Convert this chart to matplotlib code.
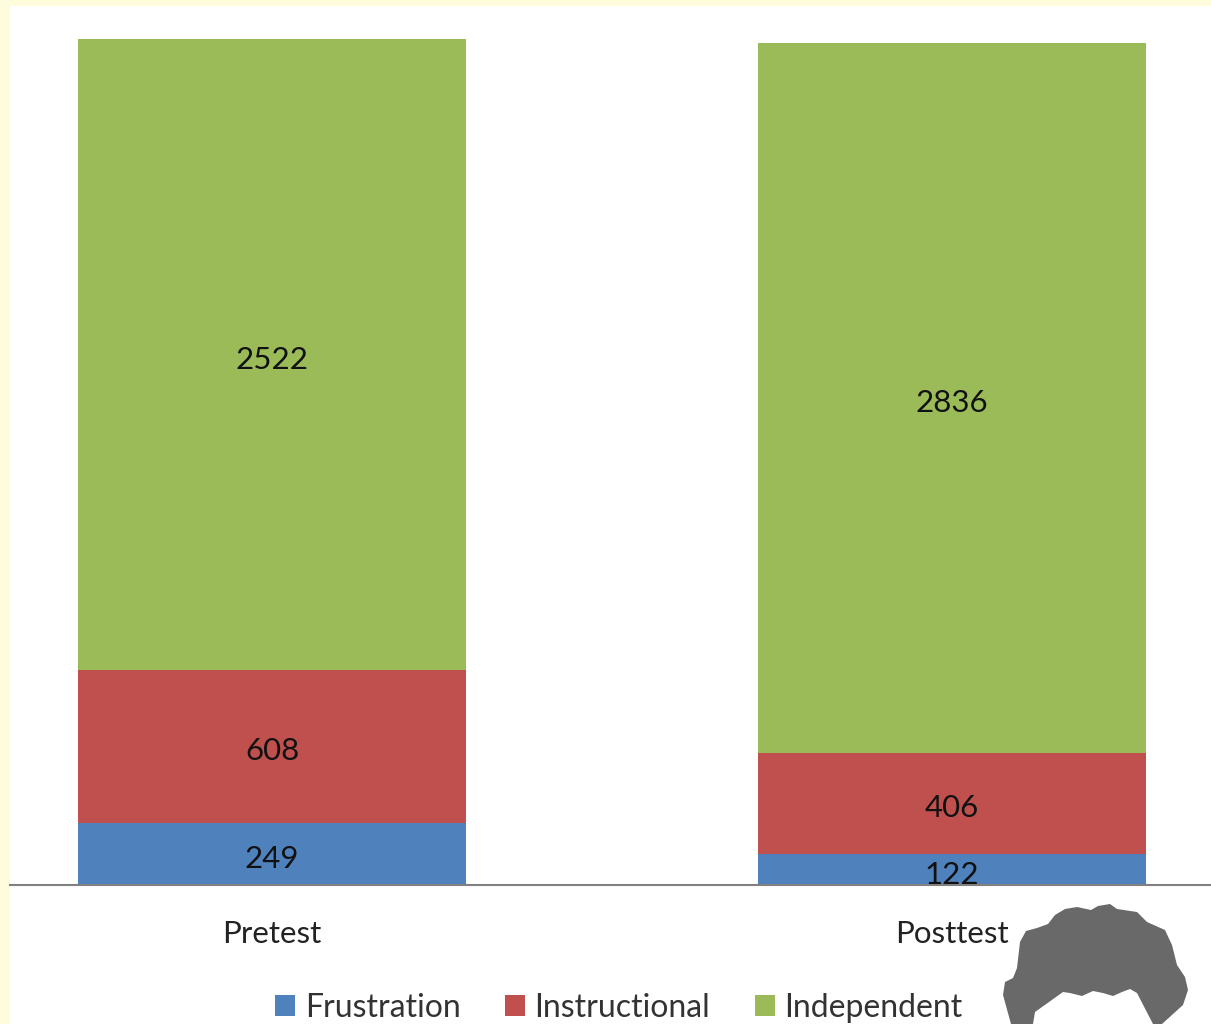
import numpy as np
import matplotlib.pyplot as plt
from matplotlib.patches import Polygon, Rectangle

W, H = 1211, 1024

tests = ['Pretest', 'Posttest']
frustration = [249, 122]
instructional = [608, 406]
independent = [2522, 2836]

plt.rcParams['font.family'] = ['Lato', 'DejaVu Sans']

fig = plt.figure(figsize=(W / 100, H / 100), dpi=100, facecolor='#FFFBDD')

# white chart area, the cream only shows at the top and on the left
fig.add_artist(Rectangle((10 / W, 0), 1 - 10 / W, 1 - 6 / H, transform=fig.transFigure,
                         facecolor='white', edgecolor='none', zorder=-1))

ax = fig.add_axes([10 / W, (H - 885) / H, (W - 10) / W, 846 / H])
ax.patch.set_alpha(0)

x = np.arange(len(tests))
bottom = np.zeros(len(tests))
series = [('Frustration', frustration, '#4F81BD'),
          ('Instructional', instructional, '#C0504D'),
          ('Independent', independent, '#9BBB59')]
for name, values, color in series:
    bars = ax.bar(x, values, 0.57, bottom=bottom, color=color, label=name)
    ax.bar_label(bars, label_type='center', fontsize=22.5, color='#111111', padding=-3.5)
    bottom += np.array(values)

ax.set_xlim((10 - 272) / 680, (W - 272) / 680)
ax.set_ylim(0, 3379)
ax.set_xticks(x, tests)
ax.tick_params(axis='x', length=0, pad=25, labelsize=22.5, labelcolor='#222222')
ax.set_yticks([])
for s in ['top', 'left', 'right']:
    ax.spines[s].set_visible(False)
ax.spines['bottom'].set_color('#808080')
ax.spines['bottom'].set_linewidth(1.5)

fig.legend(loc='center', bbox_to_anchor=(619 / W, (H - 1008) / H), ncol=3, frameon=False,
           fontsize=23, handlelength=0.62, handleheight=0.62, handletextpad=0.3,
           columnspacing=1.4, labelcolor='#333333', borderpad=0)

# grey silhouette in the lower right corner
head = [(1011, 1024), (1003, 995), (1005, 982), (1013, 978), (1017, 968), (1020, 942),
        (1026, 931), (1037, 928), (1048, 924), (1055, 915), (1065, 909), (1077, 907),
        (1091, 910), (1098, 906), (1110, 904), (1117, 909), (1137, 912), (1147, 922),
        (1165, 930), (1172, 945), (1177, 965), (1185, 977), (1188, 990), (1183, 1005),
        (1162, 1024), (1153, 1024), (1137, 993), (1130, 989), (1122, 992), (1113, 996),
        (1103, 993), (1093, 991), (1082, 996), (1070, 993), (1063, 992), (1035, 1012),
        (1033, 1024)]
fig.add_artist(Polygon([(px / W, 1 - py / H) for px, py in head], transform=fig.transFigure,
                       facecolor='#696969', edgecolor='none', zorder=5))

fig.savefig('out.png', dpi=100, facecolor=fig.get_facecolor())
